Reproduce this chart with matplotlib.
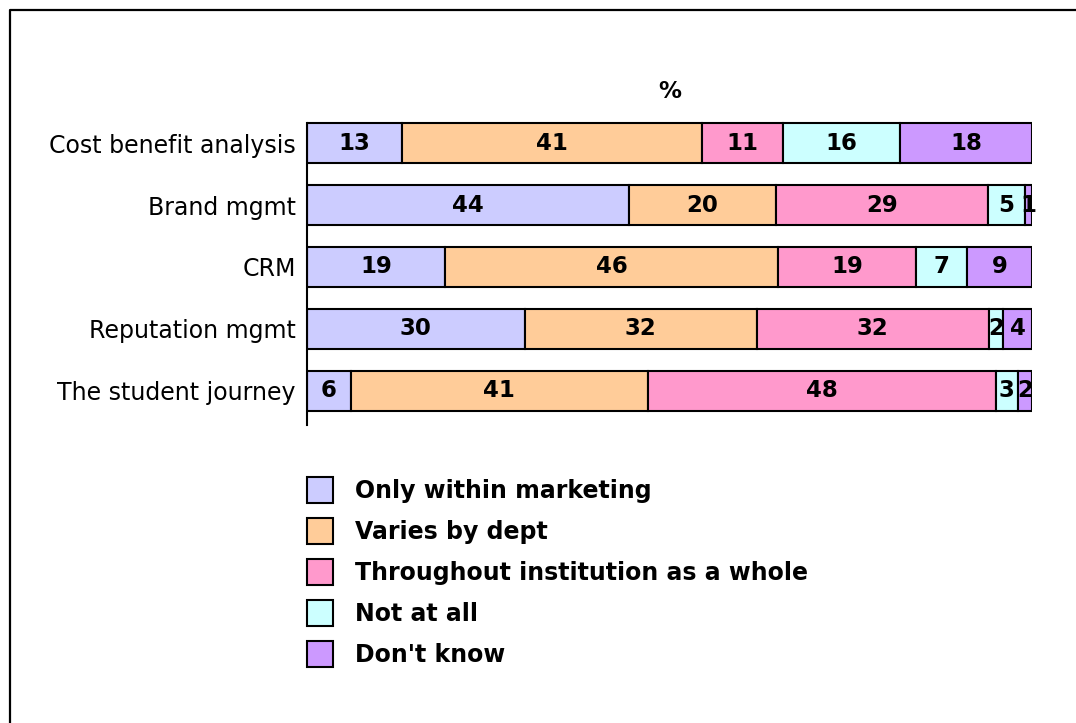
import numpy as np
import matplotlib.pyplot as plt
from matplotlib.lines import Line2D

categories = ['Cost benefit analysis', 'Brand mgmt', 'CRM',
              'Reputation mgmt', 'The student journey']
series_names = ['Only within marketing', 'Varies by dept',
                'Throughout institution as a whole', 'Not at all', "Don't know"]
only_marketing = [13, 44, 19, 30, 6]
varies_by_dept = [41, 20, 46, 32, 41]
whole_institution = [11, 29, 19, 32, 48]
not_at_all = [16, 5, 7, 2, 3]
dont_know = [18, 1, 9, 4, 2]
colors = ['#CCCCFF', '#FFCC99', '#FF99CC', '#CCFFFF', '#CC99FF']

values = np.array([only_marketing, varies_by_dept, whole_institution,
                   not_at_all, dont_know], dtype=float)
# 100% stacked: each row scaled to its own total
shares = values / values.sum(axis=0) * 100

plt.rcParams['font.family'] = ['DejaVu Sans']
fig = plt.figure(figsize=(10.76, 7.23), dpi=100)
W, H = 1076, 723
ax = fig.add_axes([307 / W, 1 - 425 / H, (1032 - 307) / W, (425 - 109) / H])

bar_h = 0.645
y = np.arange(len(categories))
left = np.zeros(len(categories))
for i in range(len(series_names)):
    bars = ax.barh(y, shares[i], left=left, height=bar_h, color=colors[i],
                   edgecolor='black', linewidth=1.5, label=series_names[i])
    ax.bar_label(bars, labels=[str(int(v)) for v in values[i]],
                 label_type='center', fontsize=16.5, fontweight='bold')
    left += shares[i]

ax.set_xlim(0, 100)
ax.set_ylim(len(categories) - 0.45, -0.55)
ax.set_yticks(y)
ax.set_yticklabels(categories, fontsize=17)
ax.tick_params(axis='y', length=0, pad=8)
ax.xaxis.set_visible(False)
for s in ['top', 'right', 'bottom']:
    ax.spines[s].set_visible(False)
ax.spines['left'].set_linewidth(1.5)
ax.spines['left'].set_bounds(-bar_h / 2, len(categories) - 0.45)
ax.set_title('%', fontsize=16.5, fontweight='bold', pad=8)

fig.legend(loc='upper left', bbox_to_anchor=(295 / W, 1 - 465 / H),
           frameon=False, prop={'weight': 'bold', 'size': 17},
           handlelength=1.1, handleheight=1.32, handletextpad=0.93,
           labelspacing=0.64, borderpad=0)

# outer frame, only top and left edges visible in the picture
fig.add_artist(Line2D([10 / W, 10 / W, 1.0], [0.0, 1 - 10 / H, 1 - 10 / H],
                      transform=fig.transFigure, color='black', linewidth=1.6))

fig.savefig('out.png', dpi=100)
